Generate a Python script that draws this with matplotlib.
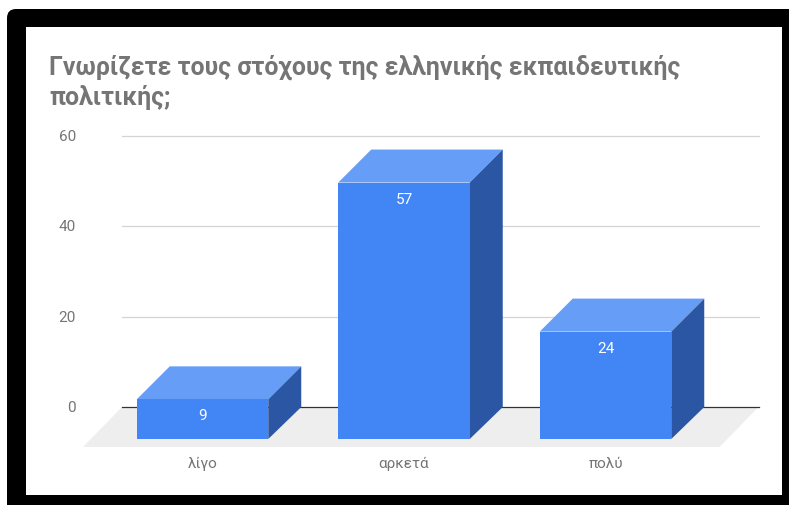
import matplotlib.pyplot as plt
from matplotlib.patches import FancyBboxPatch, Polygon, Rectangle

categories = ["λίγο", "αρκετά", "πολύ"]
values = [9, 57, 24]
y_ticks = [0, 20, 40, 60]
title = "Γνωρίζετε τους στόχους της ελληνικής εκπαιδευτικής\nπολιτικής;"

W, H = 789, 505
plt.rcParams["font.family"] = ["Roboto", "DejaVu Sans"]

fig = plt.figure(figsize=(W / 100, H / 100), dpi=100)

# frame around the chart, in pixels
bg = fig.add_axes([0, 0, 1, 1])
bg.set_xlim(0, W)
bg.set_ylim(H, 0)
bg.axis("off")
bg.add_patch(FancyBboxPatch((7, 9), 820, 540, boxstyle="round,pad=0,rounding_size=9",
                            fc="black", ec="none"))
bg.add_patch(Rectangle((26, 27), 756, 468, fc="white", ec="none"))
bg.text(49, 67, title.split("\n")[0], fontsize=17.9, fontweight="bold", color="#757575", va="center")
bg.text(49, 98, title.split("\n")[1], fontsize=17.9, fontweight="bold", color="#757575", va="center")

# plot area: back wall of the 3d box
left, right, top, bottom = 122, 758.5, 136, 407
ax = fig.add_axes([left / W, 1 - bottom / H, (right - left) / W, (bottom - top) / H])
ax.patch.set_alpha(0)
ax.set_ylim(0, 60)
cat_px = 201.5
ax.set_xlim((left - 235.5) / cat_px, (right - 235.5) / cat_px)
for s in ax.spines.values():
    s.set_visible(False)

# depth of the 3d effect in data units
px_y = 60 / (bottom - top)
dx = 33 / cat_px
dy_top = 33 * px_y
dy_floor = 32 * px_y
bar_w = 131.5 / cat_px
x0, x1 = ax.get_xlim()

ax.add_patch(Polygon([(x0, 0), (x1, 0), (x1 - dx * 1.18, -40 * px_y), (x0 - dx * 1.18, -40 * px_y)],
                     fc="#eeeeee", ec="none", clip_on=False, zorder=1))
for t in y_ticks:
    ax.plot([x0, x1], [t, t], color="#333333" if t == 0 else "#d4d4d4", lw=0.9, clip_on=False, zorder=2)
    ax.text(x0 - 46 / cat_px, t - 1 * px_y, str(t), color="#757575", fontsize=11, ha="right", va="center")

for i, (name, v) in enumerate(zip(categories, values)):
    xl = i - bar_w / 2
    xr = i + bar_w / 2
    # front face sits dx left and below the back plane
    fl, fr = xl - dx, xr - dx
    fb, ft = -dy_floor, v - dy_top
    ax.add_patch(Polygon([(fl, ft), (fr, ft), (xr, v), (xl, v)], fc="#669df6", ec="none", clip_on=False, zorder=3))
    ax.add_patch(Polygon([(fr, fb), (fr, ft), (xr, v), (xr, 0)], fc="#2a56a4", ec="none", clip_on=False, zorder=3))
    ax.add_patch(Polygon([(fl, fb), (fr, fb), (fr, ft), (fl, ft)], fc="#4285f4", ec="none", clip_on=False, zorder=4))
    ax.text((fl + fr) / 2, ft - 17 * px_y, str(v), color="white", fontsize=11,
            ha="center", va="center", zorder=5)
    ax.text((fl + fr) / 2, -57 * px_y, name, color="#757575", fontsize=11,
            ha="center", va="center")

ax.set_xticks([])
ax.set_yticks([])

fig.savefig("out.png", dpi=100)
